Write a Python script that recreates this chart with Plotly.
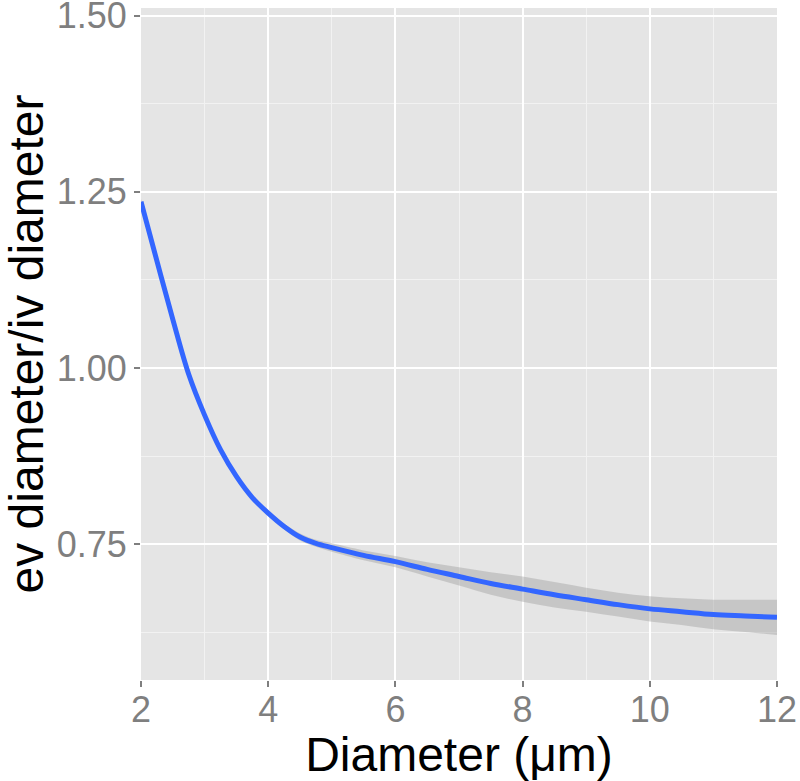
import plotly.graph_objects as go

diameter = [2.0, 2.25, 2.5, 2.75, 3.0, 3.25, 3.5, 3.75, 4.0, 4.25, 4.5, 4.75, 5.0, 5.5, 6.0,
            6.5, 7.0, 7.5, 8.0, 8.5, 9.0, 9.5, 10.0, 10.5, 11.0, 11.5, 12.0]
ratio = [1.236, 1.152, 1.069, 0.991, 0.933, 0.884, 0.846, 0.816, 0.794, 0.775, 0.760, 0.751, 0.745,
         0.734, 0.725, 0.714, 0.704, 0.694, 0.686, 0.678, 0.671, 0.664, 0.658, 0.654, 0.650, 0.648, 0.646]
halfwidth = [0.004, 0.003, 0.003, 0.003, 0.003, 0.003, 0.003, 0.003, 0.004, 0.004, 0.005, 0.005, 0.006,
             0.007, 0.008, 0.010, 0.013, 0.016, 0.018, 0.018, 0.017, 0.017, 0.018, 0.019, 0.021, 0.023, 0.025]

lower = [r - h for r, h in zip(ratio, halfwidth)]
upper = [r + h for r, h in zip(ratio, halfwidth)]

x_ticks = [2, 4, 6, 8, 10, 12]
y_ticks = [0.75, 1.00, 1.25, 1.50]
y_ticklabels = ["0.75", "1.00", "1.25", "1.50"]

fig = go.Figure()
fig.add_trace(go.Scatter(x=diameter, y=lower, mode="lines", line=dict(width=0, shape="spline"),
                         showlegend=False, hoverinfo="skip"))
fig.add_trace(go.Scatter(x=diameter, y=upper, mode="lines", line=dict(width=0, shape="spline"),
                         fill="tonexty", fillcolor="rgba(153,153,153,0.4)",
                         showlegend=False, hoverinfo="skip"))
fig.add_trace(go.Scatter(x=diameter, y=ratio, mode="lines",
                         line=dict(color="#3366FF", width=5, shape="spline"), showlegend=False))

axis_common = dict(
    showline=False, zeroline=False, automargin=False,
    showgrid=True, gridcolor="white", gridwidth=2,
    ticks="outside", ticklen=6, tickwidth=2, tickcolor="#7F7F7F",
    ticklabeloverflow="allow",
    tickfont=dict(family="Liberation Sans, Arial, sans-serif", size=36, color="#7F7F7F"),
)

fig.update_layout(
    width=800, height=781,
    margin=dict(l=141, r=23, t=8, b=101),
    paper_bgcolor="white", plot_bgcolor="#E5E5E5",
    font=dict(family="Liberation Sans, Arial, sans-serif"),
    xaxis=dict(range=[2, 12], tickvals=x_ticks, ticklabelstandoff=-8,
               minor=dict(dtick=1, tick0=0, showgrid=True, gridcolor="#F2F2F2", gridwidth=1, ticks=""),
               title=dict(text="Diameter (μm)", font=dict(size=48, color="black"), standoff=1),
               **axis_common),
    yaxis=dict(range=[0.557, 1.511], tickvals=y_ticks, ticktext=y_ticklabels,
               minor=dict(dtick=0.125, tick0=0, showgrid=True, gridcolor="#F2F2F2", gridwidth=1, ticks=""),
               title=dict(text="ev diameter/iv diameter", font=dict(size=48, color="black"), standoff=16),
               **axis_common),
)

fig.write_html("out.html", config={"displayModeBar": False},
               post_script="document.body.style.margin='0px';")
